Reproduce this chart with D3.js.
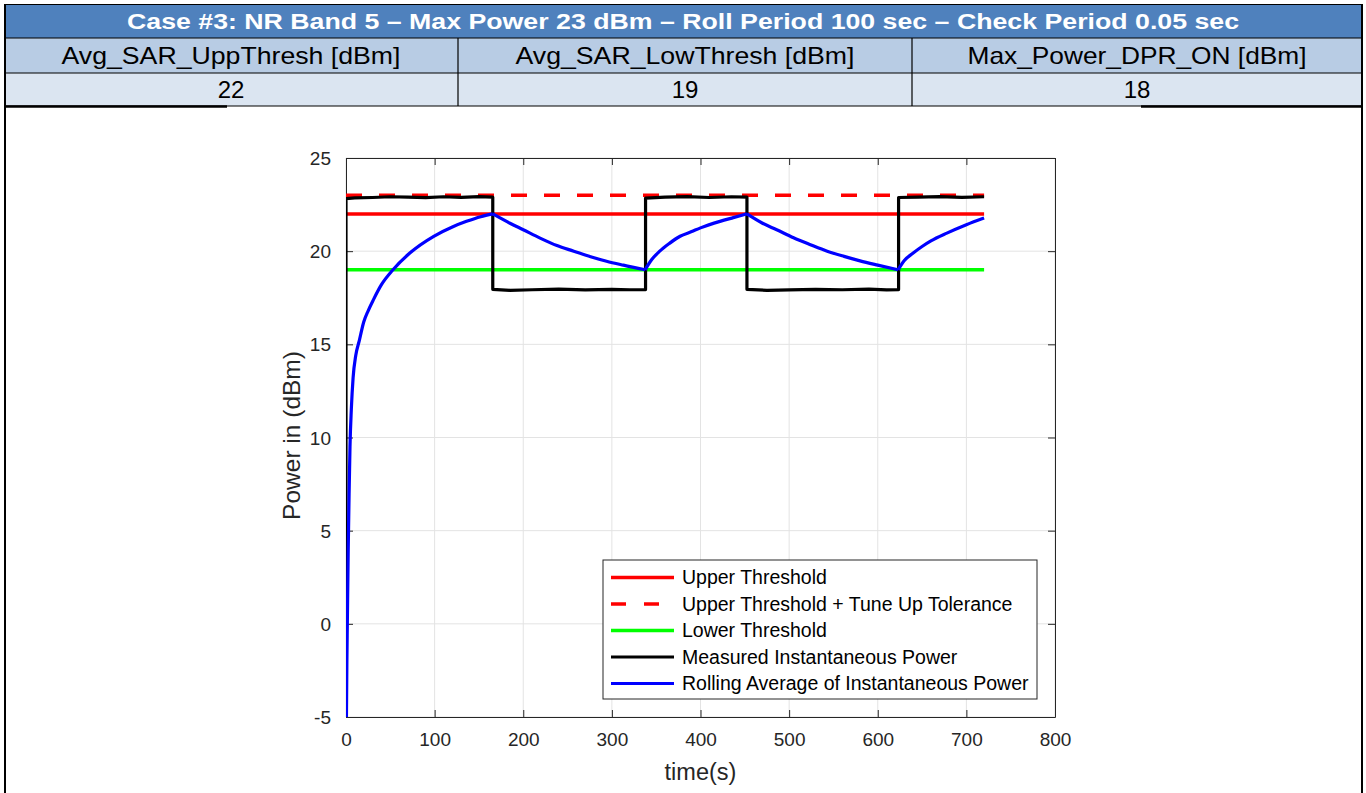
<!DOCTYPE html>
<html>
<head>
<meta charset="utf-8">
<script src="https://cdn.jsdelivr.net/npm/d3@7"></script>
<style>
  html, body { margin: 0; padding: 0; background: #ffffff; }
  svg { display: block; }
</style>
</head>
<body>
<svg id="chart" width="1366" height="793"></svg>
<script>
// ---------------- DATA ----------------
const titleText = "Case #3: NR Band 5 \u2013 Max Power 23 dBm \u2013 Roll Period 100 sec \u2013 Check Period 0.05 sec";
const paramNames = ["Avg_SAR_UppThresh [dBm]", "Avg_SAR_LowThresh [dBm]", "Max_Power_DPR_ON [dBm]"];
const paramValues = ["22", "19", "18"];

const xTicks = [0, 100, 200, 300, 400, 500, 600, 700, 800];
const yTicks = [-5, 0, 5, 10, 15, 20, 25];

const thresholdTime = [0, 720];
const upperThreshold = [22, 22];
const upperTolerance = [23, 23];
const lowerThreshold = [19, 19];

const measuredTime = [0, 0, 10, 30, 50, 70, 90, 110, 130, 150, 165.6,
  165.6, 185, 210, 240, 270, 300, 320, 338,
  338, 360, 385, 410, 435, 452.4,
  452.4, 475, 500, 530, 560, 590, 610, 623.5,
  623.5, 645, 670, 695, 720];
const measuredPower = [-5, 22.82, 22.86, 22.88, 22.92, 22.9, 22.87, 22.92, 22.89, 22.93, 22.9,
  17.95, 17.9, 17.93, 17.96, 17.92, 17.95, 17.93, 17.94,
  22.85, 22.9, 22.93, 22.88, 22.92, 22.9,
  17.95, 17.9, 17.92, 17.95, 17.93, 17.96, 17.92, 17.94,
  22.88, 22.9, 22.93, 22.89, 22.92];

// rolling average, split into its rise / decay segments
const avgSegmentsTime = [
  [0.5, 1, 1.5, 2.5, 3.5, 4.5, 6, 8, 11, 15, 20, 25, 31, 40, 53, 72, 99, 120, 136, 152, 165.6],
  [165.6, 185, 200, 219, 238, 257, 276, 294, 313, 337.5],
  [337.5, 345, 354, 365, 377, 390, 400, 422, 437, 452.4],
  [452.4, 470, 486, 505, 524, 543, 562, 580, 600, 623],
  [623, 630, 640, 650, 660, 678, 700, 720]
];
const avgSegmentsPower = [
  [-5, -2, 0, 4, 7, 9.5, 11.5, 13.2, 14.4, 15.2, 16.2, 16.8, 17.4, 18.2, 19.0, 19.9, 20.8, 21.3, 21.6, 21.85, 22.0],
  [22.0, 21.5, 21.15, 20.7, 20.3, 20.0, 19.7, 19.46, 19.25, 19.0],
  [19.0, 19.55, 20.0, 20.42, 20.8, 21.05, 21.25, 21.6, 21.8, 22.0],
  [22.0, 21.5, 21.15, 20.72, 20.35, 20.0, 19.72, 19.48, 19.25, 19.0],
  [19.0, 19.5, 19.9, 20.25, 20.55, 20.97, 21.42, 21.78]
];

const legendLabels = ["Upper Threshold", "Upper Threshold + Tune Up Tolerance", "Lower Threshold",
  "Measured Instantaneous Power", "Rolling Average of Instantaneous Power"];

// ---------------- DRAW ----------------
const svg = d3.select("#chart");
const font = "'Liberation Sans', Arial, Helvetica, sans-serif";

// ---- table ----
const tL = 4, tR = 1362;
const colX = [tL, 458, 912, tR];
const rowY = [4, 38, 73, 106];

svg.append("rect").attr("x", tL).attr("y", rowY[0]).attr("width", tR - tL).attr("height", rowY[1] - rowY[0])
  .attr("fill", "#4F81BD");
svg.append("text").attr("x", (tL + tR) / 2).attr("y", 29).attr("text-anchor", "middle")
  .attr("font-family", font).attr("font-weight", "bold").attr("font-size", 22).attr("fill", "#ffffff")
  .attr("textLength", 1112).attr("lengthAdjust", "spacingAndGlyphs").text(titleText);

for (let i = 0; i < 3; i++) {
  svg.append("rect").attr("x", colX[i]).attr("y", rowY[1]).attr("width", colX[i + 1] - colX[i]).attr("height", rowY[2] - rowY[1])
    .attr("fill", "#B8CCE4");
  svg.append("rect").attr("x", colX[i]).attr("y", rowY[2]).attr("width", colX[i + 1] - colX[i]).attr("height", rowY[3] - rowY[2])
    .attr("fill", "#DBE5F1");
  svg.append("text").attr("x", (colX[i] + colX[i + 1]) / 2).attr("y", 64).attr("text-anchor", "middle")
    .attr("font-family", font).attr("font-size", 24).attr("fill", "#000")
    .attr("textLength", 339).attr("lengthAdjust", "spacingAndGlyphs").text(paramNames[i]);
  svg.append("text").attr("x", (colX[i] + colX[i + 1]) / 2).attr("y", 98).attr("text-anchor", "middle")
    .attr("font-family", font).attr("font-size", 24).attr("fill", "#000").text(paramValues[i]);
}
// table borders
const border = svg.append("g").attr("stroke", "#000").attr("stroke-width", 1.2).attr("fill", "none");
border.append("line").attr("x1", tL).attr("x2", tR).attr("y1", rowY[0] + 0.5).attr("y2", rowY[0] + 0.5);
border.append("line").attr("x1", tL).attr("x2", tR).attr("y1", rowY[1]).attr("y2", rowY[1]);
border.append("line").attr("x1", tL).attr("x2", tR).attr("y1", rowY[2]).attr("y2", rowY[2]);
border.append("line").attr("x1", tL).attr("x2", tR).attr("y1", rowY[3]).attr("y2", rowY[3]);
border.append("line").attr("x1", colX[1]).attr("x2", colX[1]).attr("y1", rowY[1]).attr("y2", rowY[3]);
border.append("line").attr("x1", colX[2]).attr("x2", colX[2]).attr("y1", rowY[1]).attr("y2", rowY[3]);
border.append("line").attr("x1", tL + 1).attr("x2", tL + 1).attr("y1", rowY[0]).attr("y2", 793).attr("stroke-width", 2);
border.append("line").attr("x1", tR).attr("x2", tR).attr("y1", rowY[0]).attr("y2", 793).attr("stroke-width", 2);
border.append("line").attr("x1", tL).attr("x2", 227).attr("y1", rowY[3] + 0.5).attr("y2", rowY[3] + 0.5).attr("stroke-width", 2.5);
border.append("line").attr("x1", 1141).attr("x2", tR).attr("y1", rowY[3] + 0.5).attr("y2", rowY[3] + 0.5).attr("stroke-width", 2.5);

// ---- chart ----
const pL = 346, pR = 1055, pT = 158, pB = 717;
const x = d3.scaleLinear().domain([0, 800]).range([pL, pR]);
const y = d3.scaleLinear().domain([-5, 25]).range([pB, pT]);
const axisColor = "#262626";
const fmt = d => String(d);

// grid
const grid = svg.append("g").attr("stroke", "#e3e3e3").attr("stroke-width", 1);
xTicks.forEach(t => grid.append("line").attr("x1", x(t)).attr("x2", x(t)).attr("y1", pT).attr("y2", pB));
yTicks.forEach(t => grid.append("line").attr("x1", pL).attr("x2", pR).attr("y1", y(t)).attr("y2", y(t)));

// axes with inward ticks
const axB = svg.append("g").attr("transform", `translate(0,${pB})`)
  .call(d3.axisBottom(x).tickValues(xTicks).tickFormat(fmt).tickSizeInner(-7).tickSizeOuter(0).tickPadding(16));
const axT = svg.append("g").attr("transform", `translate(0,${pT})`)
  .call(d3.axisTop(x).tickValues(xTicks).tickSizeInner(-7).tickSizeOuter(0).tickFormat(""));
const axL = svg.append("g").attr("transform", `translate(${pL},0)`)
  .call(d3.axisLeft(y).tickValues(yTicks).tickFormat(fmt).tickSizeInner(-7).tickSizeOuter(0).tickPadding(15));
const axR = svg.append("g").attr("transform", `translate(${pR},0)`)
  .call(d3.axisRight(y).tickValues(yTicks).tickSizeInner(-7).tickSizeOuter(0).tickFormat(""));
[axB, axT, axL, axR].forEach(a => {
  a.selectAll("path").attr("stroke", axisColor).attr("stroke-width", 1);
  a.selectAll("line").attr("stroke", axisColor).attr("stroke-width", 1);
  a.selectAll("text").attr("font-family", font).attr("font-size", 19).attr("fill", axisColor);
});
axB.selectAll("text").attr("dy", "0.71em");
axL.selectAll("text").attr("dy", "0.35em");

// axis labels
svg.append("text").attr("x", (pL + pR) / 2).attr("y", 780).attr("text-anchor", "middle")
  .attr("font-family", font).attr("font-size", 23.5).attr("fill", axisColor).text("time(s)");
svg.append("text").attr("transform", `translate(300,${(pT + pB) / 2 - 2}) rotate(-90)`).attr("text-anchor", "middle")
  .attr("font-family", font).attr("font-size", 24.5).attr("fill", axisColor).text("Power in (dBm)");

// series
svg.append("clipPath").attr("id", "plotclip").append("rect")
  .attr("x", pL).attr("y", pT).attr("width", pR - pL).attr("height", pB - pT);
const plot = svg.append("g").attr("clip-path", "url(#plotclip)");
const line = d3.line().x(d => x(d[0])).y(d => y(d[1]));
const smooth = d3.line().x(d => x(d[0])).y(d => y(d[1])).curve(d3.curveMonotoneX);
const zip = (a, b) => a.map((v, i) => [v, b[i]]);

const series = [
  { d: line(zip(thresholdTime, upperThreshold)), color: "#ff0000", width: 3.5, dash: null },
  { d: line(zip(thresholdTime, upperTolerance)), color: "#ff0000", width: 3.5, dash: "16,17" },
  { d: line(zip(thresholdTime, lowerThreshold)), color: "#00ff00", width: 3.5, dash: null },
  { d: line(zip(measuredTime, measuredPower)), color: "#000000", width: 3.2, dash: null },
  { d: avgSegmentsTime.map((t, i) => smooth(zip(t, avgSegmentsPower[i]))).join(""), color: "#0000ff", width: 3.2, dash: null }
];
series.forEach(s => {
  plot.append("path").attr("d", s.d).attr("fill", "none")
    .attr("stroke", s.color).attr("stroke-width", s.width)
    .attr("stroke-dasharray", s.dash).attr("stroke-linejoin", "round");
});

// legend
const lgX = 603, lgY = 560, lgW = 434, lgH = 139;
svg.append("rect").attr("x", lgX).attr("y", lgY).attr("width", lgW).attr("height", lgH)
  .attr("fill", "#ffffff").attr("stroke", axisColor).attr("stroke-width", 1);
const rowYs = [577.5, 604, 630.5, 657, 683.5];
series.forEach((s, i) => {
  svg.append("line").attr("x1", 611).attr("x2", 674).attr("y1", rowYs[i]).attr("y2", rowYs[i])
    .attr("stroke", s.color).attr("stroke-width", s.width).attr("stroke-dasharray", s.dash ? "15,18" : null);
  svg.append("text").attr("x", 682).attr("y", rowYs[i]).attr("dy", "0.35em")
    .attr("font-family", font).attr("font-size", 19.5).attr("fill", "#000").text(legendLabels[i]);
});
</script>
</body>
</html>
